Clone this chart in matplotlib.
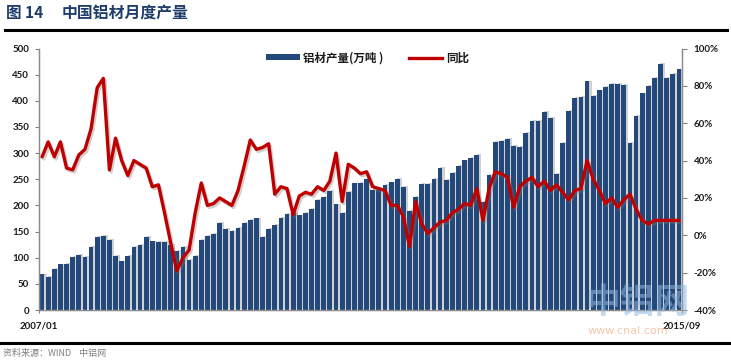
import matplotlib
matplotlib.use("Agg")
import matplotlib.pyplot as plt
import matplotlib.patheffects as pe
from matplotlib.lines import Line2D
from matplotlib.patches import Patch
from matplotlib.ticker import FuncFormatter, MultipleLocator
import numpy as np

plt.rcParams['font.family'] = ['Lato', 'Noto Sans CJK SC', 'DejaVu Sans']

# ---- data (2007/01 .. 2015/09, monthly) ----
start_label = "2007/01"
end_label = "2015/09"
production = [68, 64, 79, 87, 88, 102, 105, 102, 120, 140, 141, 134, 103, 93, 103, 121, 125, 140,
              131, 130, 130, 125, 113, 120, 95, 103, 134, 142, 146, 167, 155, 151, 157, 167, 172,
              175, 140, 155, 163, 176, 184, 186, 181, 186, 193, 210, 216, 228, 202, 185, 225, 242,
              243, 251, 230, 230, 239, 244, 250, 236, 190, 216, 241, 241, 250, 272, 249, 262, 276, 286, 291, 297,
              206, 258, 322, 324, 327, 313, 312, 338, 362, 361, 379, 368, 260, 319, 381,
              405, 407, 437, 409, 420, 426, 432, 432, 431, 319, 371, 414, 428, 443, 471, 443, 452, 460]
yoy = [42, 50, 42, 50, 36, 35, 43, 46, 57, 79, 84, 35, 52, 40, 32, 40, 38, 36,
       26, 27, 12, -4, -19, -12, -8, 12, 28, 16, 17, 20, 18, 16, 24, 37, 51,
       46, 47, 49, 22, 26, 25, 11, 21, 23, 22, 26, 24, 29, 44, 18, 38, 36,
       33, 34, 26, 25, 24, 16, 16, 10, -6, 18, 6, 1, 4, 7, 8, 12, 14,
       17, 16, 25, 8, 25, 34, 33, 31, 15, 26, 29, 31, 26, 29, 24, 27, 23, 19,
       24, 25, 40, 30, 24, 17, 20, 15, 19, 22, 14, 8, 6, 8, 8, 8, 8, 8]
bar_label = "铝材产量(万吨 )"
line_label = "同比"

n = len(production)
x = np.arange(n)

fig = plt.figure(figsize=(7.31, 3.62), dpi=100)
ax = fig.add_axes([39/731, 1-310/362, (682-39)/731, (310-48.5)/362])
ax2 = ax.twinx()

bar_color = '#23497c'
ax.bar(x, production, width=0.78, color=bar_color, linewidth=0, zorder=2,
       path_effects=[pe.SimplePatchShadow(offset=(1.6, 0.6), shadow_rgbFace='#8c8c8c', alpha=0.4), pe.Normal()])

ax2.plot(x, yoy, color='#c00000', lw=2.4, solid_joinstyle='round', solid_capstyle='round', zorder=3,
         path_effects=[pe.SimpleLineShadow(offset=(1.2, -1.5), shadow_color='#777777', alpha=0.35), pe.Normal()])

ax.set_xlim(-0.5, n - 0.5)
ax.set_ylim(0, 500)
ax2.set_ylim(-40, 100)
ax.yaxis.set_major_locator(MultipleLocator(50))
ax2.yaxis.set_major_locator(MultipleLocator(20))
ax2.yaxis.set_major_formatter(FuncFormatter(lambda v, p: f"{int(round(v))}%"))

ax.set_xticks([-0.5, n - 0.5])
ax.set_xticklabels([start_label, end_label])

for lab in ax.get_yticklabels() + ax2.get_yticklabels() + ax.get_xticklabels():
    lab.set_fontsize(7)
    lab.set_fontweight('bold')
    lab.set_color('#1a1a1a')

ax.tick_params(axis='y', length=3, width=0.8, color='#808080', pad=4)
ax2.tick_params(axis='y', length=3.5, width=0.8, color='#808080', pad=5)
ax.tick_params(axis='x', length=2, width=0.8, color='#808080', pad=6)

for a in (ax, ax2):
    a.spines['top'].set_visible(False)
    for s in ('left', 'right', 'bottom'):
        a.spines[s].set_color('#8c8c8c')
        a.spines[s].set_linewidth(0.9)
ax.set_zorder(ax2.get_zorder() - 1)
ax2.patch.set_visible(False)
ax.patch.set_visible(False)

# legend
handles = [Patch(facecolor=bar_color, edgecolor='none'),
           Line2D([0], [0], color='#c00000', lw=2.4)]
leg = fig.legend(handles, [bar_label, line_label], loc='center', bbox_to_anchor=(0.503, 1-58/362),
                 ncol=2, frameon=False, handlelength=2.9, handleheight=0.45, columnspacing=2.2,
                 handletextpad=0.3, prop={'family': ['Noto Sans CJK SC'], 'weight': 'bold', 'size': 8.3})
for t in leg.get_texts():
    t.set_color('#1a1a1a')

# title and rules
fig.text(6/731, 1-13/362, "图 14", fontsize=11.2, fontweight='bold', color='#1f3d6b',
         family=['Noto Sans CJK SC', 'DejaVu Sans'], va='center', ha='left')
fig.text(62/731, 1-13/362, "中国铝材月度产量", fontsize=11.4, fontweight='bold', color='#1f3d6b',
         family=['Noto Sans CJK SC', 'DejaVu Sans'], va='center', ha='left')
fig.add_artist(Line2D([5/731, 727/731], [1-30/362, 1-30/362], color='black', lw=2.2))
fig.add_artist(Line2D([0, 1], [1-343/362, 1-343/362], color='black', lw=2.2))
fig.text(3/731, 1-353/362, "资料来源：WIND    中铝网", fontsize=6.5, color='#7f7f7f', style='italic',
         family=['Noto Sans CJK SC', 'DejaVu Sans'], va='center', ha='left')

# watermark
fig.text(638/731, 1-303/362, "中铝网", fontsize=25, fontweight='bold', color='#8fb8e0', alpha=0.55,
         family=['Noto Sans CJK SC', 'DejaVu Sans'], va='center', ha='center', zorder=5)
fig.text(628/731, 1-331/362, "www.cnal.com", fontsize=8, color='#f0a070', alpha=0.6,
         family=['DejaVu Sans'], va='center', ha='center', zorder=5)

fig.savefig("out.png", dpi=100)
